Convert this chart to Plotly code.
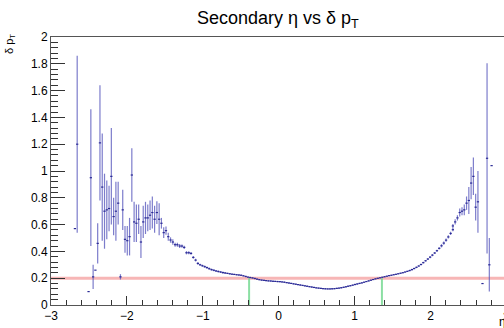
import numpy as np
import plotly.graph_objects as go

# ---------------- data ----------------
BIN_W = 0.03
# sparse / noisy bins on the left (eta, mean dpT, error)
left_eta = [-2.685, -2.655, -2.505, -2.475, -2.445, -2.415, -2.385, -2.355, -2.325, -2.295,
            -2.265, -2.235, -2.205, -2.175, -2.145, -2.115, -2.085, -2.055, -2.025, -1.995,
            -1.965, -1.935, -1.905, -1.875, -1.845, -1.815, -1.785, -1.755, -1.725, -1.695,
            -1.665, -1.635, -1.605, -1.575, -1.545, -1.515, -1.485, -1.455, -1.425, -1.395,
            -1.365, -1.335, -1.305, -1.275, -1.245, -1.215, -1.185, -1.155, -1.125, -1.095,
            -1.065]
left_val = [0.57, 1.20, 0.10, 0.95, 0.21, 0.26, 0.46, 1.21, 0.88, 0.70,
            0.71, 0.72, 0.96, 0.66, 0.70, 0.76, 0.21, 0.71, 0.49, 0.48,
            0.51, 0.97, 0.62, 0.61, 0.64, 0.47, 0.62, 0.65, 0.65, 0.67,
            0.69, 0.64, 0.69, 0.64, 0.61, 0.54, 0.555, 0.51, 0.485, 0.47,
            0.45, 0.45, 0.44, 0.44, 0.43, 0.39, 0.39, 0.385, 0.355, 0.335,
            0.31]
left_err = [0.0, 0.66, 0.0, 0.51, 0.09, 0.0, 0.15, 0.43, 0.40, 0.28,
            0.22, 0.17, 0.36, 0.14, 0.22, 0.16, 0.02, 0.15, 0.10, 0.11,
            0.14, 0.20, 0.15, 0.14, 0.11, 0.12, 0.12, 0.12, 0.10, 0.11,
            0.12, 0.10, 0.085, 0.12, 0.04, 0.04, 0.03, 0.03, 0.02, 0.02,
            0.015, 0.015, 0.015, 0.012, 0.012, 0.012, 0.012, 0.01, 0.01, 0.01,
            0.01]

# dense central bins, starting at eta = -1.035, one per 0.03
mid_start = -1.035
mid_val = [0.300, 0.293, 0.286, 0.279, 0.271, 0.264, 0.259, 0.254, 0.250, 0.246,
           0.242, 0.239, 0.236, 0.233, 0.230, 0.228, 0.226, 0.224, 0.222, 0.218,
           0.213, 0.208, 0.205, 0.202, 0.198, 0.193, 0.189, 0.186, 0.184, 0.182,
           0.180, 0.179, 0.177, 0.176, 0.175, 0.174, 0.172, 0.170, 0.167, 0.164,
           0.161, 0.158, 0.155, 0.152, 0.149, 0.146, 0.143, 0.140, 0.137, 0.134,
           0.131, 0.128, 0.126, 0.124, 0.122, 0.121, 0.120, 0.120, 0.121, 0.122,
           0.124, 0.126, 0.129, 0.132, 0.136, 0.140, 0.144, 0.148, 0.153, 0.157,
           0.161, 0.165, 0.170, 0.175, 0.180, 0.185, 0.190, 0.195, 0.199, 0.203,
           0.207, 0.211, 0.215, 0.219, 0.222, 0.226, 0.229, 0.233, 0.237, 0.241,
           0.246, 0.251, 0.257, 0.264, 0.272, 0.281, 0.291, 0.302, 0.316, 0.330,
           0.343, 0.357, 0.372, 0.388, 0.405, 0.423, 0.442, 0.462, 0.484, 0.508,
           0.534, 0.562]
mid_err = ([0.008] * 12 + [0.005] * 60 + [0.004] * 20 + [0.006] * 8 + [0.008] * 6 + [0.012] * 6)

# sparse / noisy bins on the right
right_eta = [2.295, 2.325, 2.355, 2.385, 2.415, 2.445, 2.475, 2.505, 2.535, 2.565,
             2.595, 2.625, 2.685, 2.745, 2.775, 2.805]
right_val = [0.59, 0.62, 0.65, 0.69, 0.70, 0.71, 0.76, 0.78, 0.91, 0.96,
             0.73, 0.77, 0.16, 1.095, 0.30, 1.04]
right_err = [0.015, 0.02, 0.02, 0.03, 0.03, 0.04, 0.05, 0.10, 0.12, 0.14,
             0.10, 0.23, 0.0, 0.71, 0.20, 0.0]

ref_level = 0.2             # red reference line
cross_eta = [-0.39, 1.36]   # green markers

x_ticks = [-3, -2, -1, 0, 1, 2]
y_ticks = [0, 0.2, 0.4, 0.6, 0.8, 1, 1.2, 1.4, 1.6, 1.8, 2]

# ---------------- build ----------------
mid_eta = [round(mid_start + BIN_W * i, 3) for i in range(len(mid_val))]
eta = left_eta + mid_eta + right_eta
val = left_val + mid_val + right_val
err = left_err + mid_err + right_err

fig = go.Figure()

# red reference line
fig.add_trace(go.Scatter(x=[-3, 3], y=[ref_level, ref_level], mode="lines",
                         line=dict(color="rgba(240,110,110,0.5)", width=3),
                         hoverinfo="skip", showlegend=False))
# green lines
for ce in cross_eta:
    fig.add_trace(go.Scatter(x=[ce, ce], y=[0, ref_level], mode="lines",
                             line=dict(color="rgba(110,215,140,0.8)", width=2),
                             hoverinfo="skip", showlegend=False))

# vertical error bars
fig.add_trace(go.Scatter(x=eta, y=val, mode="markers",
                         marker=dict(size=1, color="rgba(0,0,0,0)"),
                         error_y=dict(type="data", array=err, visible=True,
                                      color="rgba(80,80,185,0.75)", thickness=1.2, width=0),
                         showlegend=False))
# horizontal bin-width markers
fig.add_trace(go.Scatter(x=eta, y=val, mode="markers",
                         marker=dict(size=1, color="rgba(0,0,0,0)"),
                         error_x=dict(type="constant", value=BIN_W / 2, visible=True,
                                      color="#2a2a95", thickness=1.2, width=0),
                         showlegend=False))

font = "Liberation Sans, Arial, sans-serif"
W, H = 504, 328
L, T, B = 51, 37, 23
px_per_unit = 75.9
xmax = -3 + (W - L) / px_per_unit

fig.update_layout(
    width=W, height=H,
    margin=dict(l=L, r=0, t=T, b=B, pad=0),
    paper_bgcolor="white", plot_bgcolor="white",
    font=dict(family=font, size=12, color="black"),
    showlegend=False,
    xaxis=dict(range=[-3, xmax], tickvals=x_ticks, ticks="inside", ticklen=9,
               tickcolor="#333", showgrid=False, zeroline=False,
               showline=True, linecolor="#555", linewidth=1, mirror=True,
               tickfont=dict(size=12, family=font),
               minor=dict(dtick=0.2, tick0=-3, ticks="inside", ticklen=5, tickcolor="#333")),
    yaxis=dict(range=[0, 2], tickvals=y_ticks, ticktext=["0", "0.2", "0.4", "0.6", "0.8", "1",
                                                         "1.2", "1.4", "1.6", "1.8", "2"],
               ticks="inside", ticklen=14, tickcolor="#333", showgrid=False,
               zeroline=False, showline=True, linecolor="#555", linewidth=1,
               tickfont=dict(size=12, family=font),
               minor=dict(dtick=0.04, tick0=0, ticks="inside", ticklen=7, tickcolor="#333")),
)

fig.add_annotation(text="Secondary η vs δ p<sub>T</sub>", xref="paper", yref="paper",
                   x=(278 - L) / (W - L), y=1.0, yshift=4, xanchor="center", yanchor="bottom",
                   showarrow=False, font=dict(size=18, family=font))
fig.add_annotation(text="δ p<sub>T</sub>", xref="paper", yref="paper",
                   x=(10 - L) / (W - L), y=(H - B - 44) / (H - T - B), xanchor="center", yanchor="middle",
                   textangle=-90, showarrow=False, font=dict(size=11, family=font))
fig.add_annotation(text="η", xref="paper", yref="paper",
                   x=(502 - L) / (W - L), y=0, yshift=-17, xanchor="center", yanchor="middle",
                   showarrow=False, font=dict(size=12, family=font))
fig.add_annotation(text="3", xref="paper", yref="paper",
                   x=(506.5 - L) / (W - L), y=0, yshift=-3, xanchor="center", yanchor="top",
                   showarrow=False, font=dict(size=12, family=font))

fig.write_html("out.html")
